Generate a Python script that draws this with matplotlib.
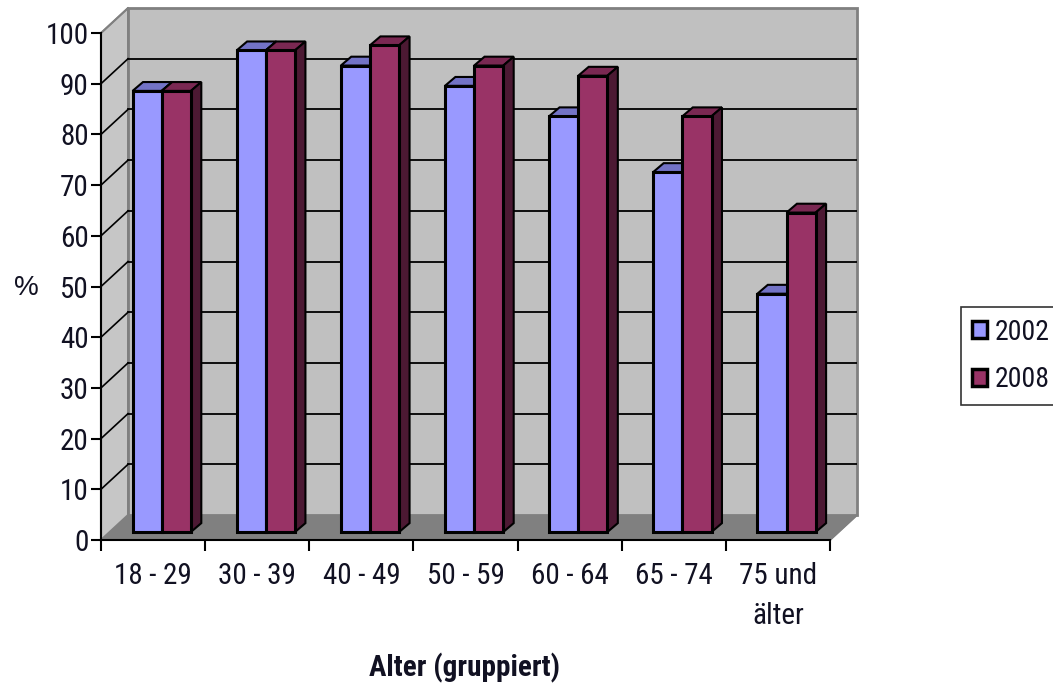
import matplotlib
matplotlib.use("Agg")
import matplotlib.pyplot as plt
from matplotlib.patches import Polygon, Patch
from matplotlib import font_manager as fm

# ---- data -------------------------------------------------------------
categories = ["18 - 29", "30 - 39", "40 - 49", "50 - 59", "60 - 64", "65 - 74", "75 und\nälter"]
series_names = ["2002", "2008"]
values_2002 = [87, 95, 92, 88, 82, 71, 47]
values_2008 = [87, 95, 96, 92, 90, 82, 63]
y_ticks = [0, 10, 20, 30, 40, 50, 60, 70, 80, 90, 100]
x_title = "Alter (gruppiert)"
y_title = "%"

# ---- styling ----------------------------------------------------------
installed = {f.name for f in fm.fontManager.ttflist}
preferred = ["Liberation Sans Narrow", "Arial Narrow", "Roboto Condensed",
             "IBM Plex Sans Condensed", "Liberation Sans"]
font_name = next(f for f in preferred if f in installed or f == "Liberation Sans")
plt.rcParams["font.family"] = [font_name, "DejaVu Sans"]
text_color = "#111122"
fs = 21

front_colors = ["#9999ff", "#993366"]
top_colors = ["#7373c6", "#7a2852"]
side_colors = ["#4c4c80", "#4c1933"]

wall_color = "#c0c0c0"
side_wall_color = "#c6c6c6"
floor_color = "#808080"
wall_edge = "#808080"

# pseudo-3D geometry (data units)
n = len(categories)
depth_dx, depth_dy = 0.26, 4.93      # wall depth
bar_depth = 0.32                      # front plane of bars, as fraction of depth
bar_dx, bar_dy = 0.10, 1.75          # bar depth
bar_w = 0.28

fig = plt.figure(figsize=(10.53, 6.89), dpi=100)
ymax = 105.4
ax = fig.add_axes([101 / 1053, 149 / 689, 756 / 1053, ymax * 5.07 / 689])
ax.set_xlim(0, n + depth_dx)
ax.set_ylim(0, ymax)

# walls and floor
floor = Polygon([(0, 0), (n, 0), (n + depth_dx, depth_dy), (depth_dx, depth_dy)],
                closed=True, facecolor=floor_color, edgecolor=wall_edge, lw=1, zorder=1)
side_wall = Polygon([(0, 0), (depth_dx, depth_dy), (depth_dx, 100 + depth_dy), (0, 100)],
                    closed=True, facecolor=side_wall_color, edgecolor=wall_edge, lw=1.5, zorder=1)
back_wall = Polygon([(depth_dx, depth_dy), (n + depth_dx, depth_dy),
                     (n + depth_dx, 100 + depth_dy), (depth_dx, 100 + depth_dy)],
                    closed=True, facecolor=wall_color, edgecolor=wall_edge, lw=2, zorder=1)
for p in (floor, side_wall, back_wall):
    p.set_clip_on(False)
    ax.add_patch(p)

# gridlines on back and side walls
for v in y_ticks[1:-1]:
    ax.plot([depth_dx, n + depth_dx], [v + depth_dy, v + depth_dy], color="black", lw=1.3, zorder=2)
for v in y_ticks[1:]:
    ax.plot([0, depth_dx], [v, v + depth_dy], color="black" if v < 100 else wall_edge,
            lw=1.2, zorder=2, clip_on=False)
ax.plot([n, n + depth_dx], [0, depth_dy], color=wall_edge, lw=1.5, zorder=2, clip_on=False)

# bars
base = bar_depth * depth_dy
shift = bar_depth * depth_dx
z = 3
for i in range(n):
    center = i + 0.5 + shift
    for s, vals in enumerate([values_2002, values_2008]):
        x0 = center - bar_w + s * bar_w
        x1 = x0 + bar_w
        y1 = base + vals[i]
        top = Polygon([(x0, y1), (x1, y1), (x1 + bar_dx, y1 + bar_dy), (x0 + bar_dx, y1 + bar_dy)],
                      closed=True, facecolor=top_colors[s], edgecolor="black", lw=1.5, zorder=z)
        side = Polygon([(x1, base), (x1 + bar_dx, base + bar_dy), (x1 + bar_dx, y1 + bar_dy), (x1, y1)],
                       closed=True, facecolor=side_colors[s], edgecolor="black", lw=1.5, zorder=z)
        ax.add_patch(top)
        ax.add_patch(side)
        ax.bar(x0, vals[i], width=bar_w, bottom=base, align="edge",
               color=front_colors[s], edgecolor="black", linewidth=2.2, zorder=z + 0.5)
        z += 1

# axes lines and ticks
for sp in ("top", "right"):
    ax.spines[sp].set_visible(False)
ax.spines["left"].set_bounds(0, 100)
ax.spines["bottom"].set_bounds(0, n)
ax.spines["left"].set_linewidth(1.5)
ax.spines["bottom"].set_linewidth(1.5)
ax.spines["left"].set_zorder(20)
ax.spines["bottom"].set_zorder(20)

ax.set_yticks(y_ticks)
ax.set_yticklabels([str(v) for v in y_ticks])
ax.tick_params(axis="y", direction="out", length=7, width=1.5, pad=2,
               labelsize=fs, labelcolor=text_color)

ax.set_xticks(range(n + 1))
ax.set_xticklabels([])
ax.set_xticks([i + 0.5 for i in range(n)], minor=True)
ax.set_xticklabels(categories, minor=True, fontsize=fs, color=text_color, linespacing=1.55)
ax.tick_params(axis="x", which="major", direction="out", length=8, width=1.5)
ax.tick_params(axis="x", which="minor", length=0, pad=16)

ax.set_xlabel(x_title, fontsize=fs, fontweight="bold", color=text_color, va="center")
ax.xaxis.set_label_coords(0.481, -0.240)
ax.set_ylabel(y_title, fontsize=fs - 1, rotation=0, color=text_color, va="center", ha="center",
              family=["Liberation Sans", "DejaVu Sans"])
ax.yaxis.set_label_coords(-0.099, 0.472)

# legend
handles = [Patch(facecolor=front_colors[k], edgecolor="black", linewidth=2.5, label=series_names[k])
           for k in range(2)]
leg = fig.legend(handles=handles, loc="center left", bbox_to_anchor=(961 / 1053, 1 - 356 / 689),
                 frameon=True, fancybox=False, fontsize=20, handlelength=0.55, handleheight=0.55,
                 handletextpad=0.28, labelspacing=0.75, borderpad=0.4, borderaxespad=0)
leg.get_frame().set_edgecolor("black")
leg.get_frame().set_linewidth(1.2)
for t in leg.get_texts():
    t.set_color(text_color)

fig.savefig("out.png", dpi=100)
